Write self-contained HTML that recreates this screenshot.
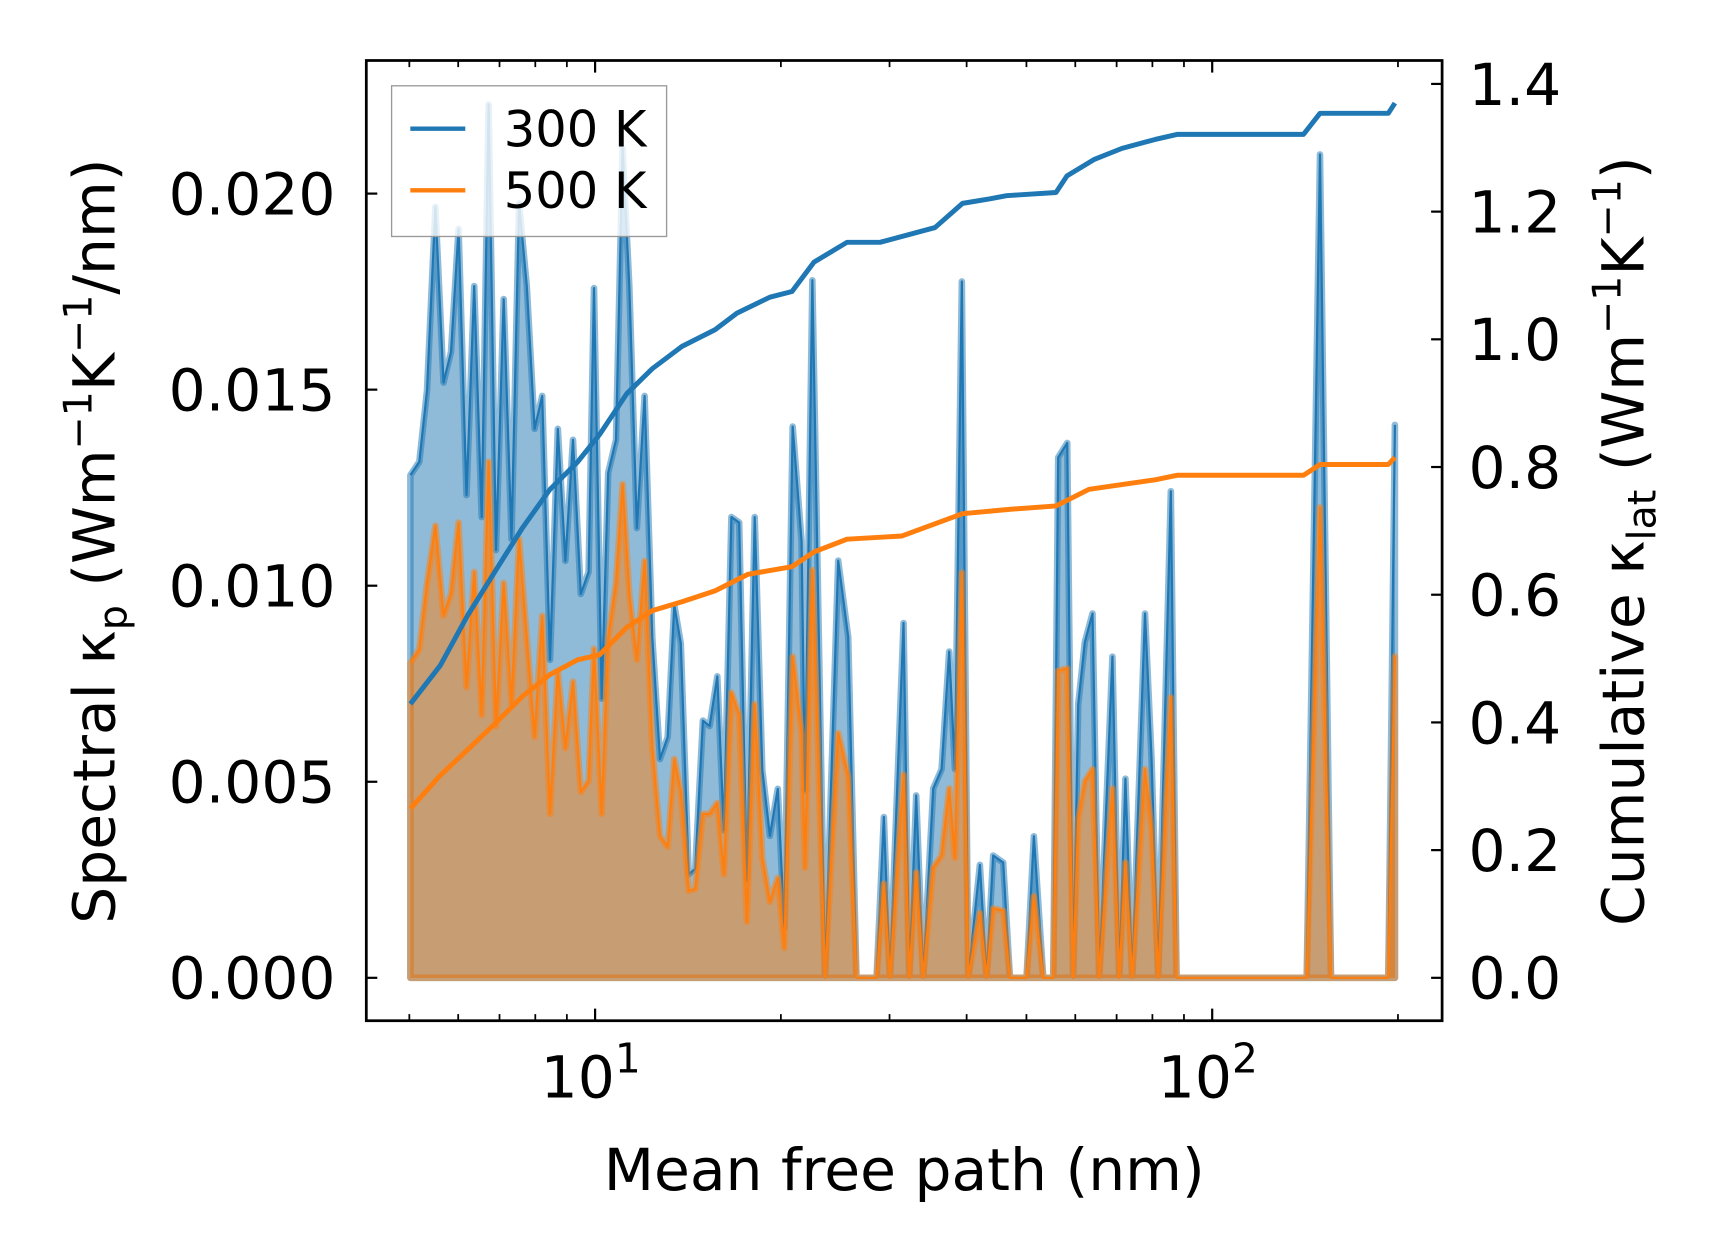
<!DOCTYPE html>
<html><head><meta charset="utf-8"><style>
html,body{margin:0;padding:0;background:#fff;}
svg{display:block;}
text{font-family:"DejaVu Sans","Liberation Sans",sans-serif;fill:#000;}
</style></head><body>
<svg id="chart" width="1716" height="1255" viewBox="0 0 1560 1141" preserveAspectRatio="none" xmlns="http://www.w3.org/2000/svg">
<g id="plot"></g>
<g id="axes"></g>
<text x="822" y="1082" font-size="53" text-anchor="middle">Mean free path (nm)</text>
<text transform="translate(104,492) rotate(-90)" font-size="53" text-anchor="middle">Spectral κ<tspan font-size="36" dy="11">p</tspan><tspan dy="-11"> (Wm</tspan><tspan font-size="36" dy="-21">−1</tspan><tspan dy="21">K</tspan><tspan font-size="36" dy="-21">−1</tspan><tspan dy="21">/nm)</tspan></text>
<text transform="translate(1494,492) rotate(-90)" font-size="53" text-anchor="middle">Cumulative κ<tspan font-size="36" dy="11">lat</tspan><tspan dy="-11"> (Wm</tspan><tspan font-size="36" dy="-21">−1</tspan><tspan dy="21">K</tspan><tspan font-size="36" dy="-21">−1</tspan><tspan dy="21">)</tspan></text>
<g>
<rect x="356" y="78" width="250" height="137" fill="#fff" fill-opacity="0.8" stroke="#999" stroke-width="1.2"/>
<line x1="373" y1="117" x2="423" y2="117" stroke="#1f77b4" stroke-width="4"/>
<text x="458" y="133" font-size="45">300 K</text>
<line x1="373" y1="173" x2="423" y2="173" stroke="#ff7f0e" stroke-width="4"/>
<text x="458" y="189" font-size="45">500 K</text>
</g>
</svg>
<script>
const mfp = [5.02,5.19,5.34,5.51,5.68,5.84,6.01,6.19,6.37,6.55,6.72,6.91,7.11,7.32,7.53,7.75,7.98,8.21,8.45,8.70,8.95,9.21,9.48,9.76,9.96,10.25,10.50,10.81,11.08,11.36,11.69,12.03,12.38,12.74,13.11,13.44,13.77,14.18,14.53,14.95,15.33,15.78,16.17,16.63,17.12,17.62,18.14,18.66,19.20,19.77,20.26,20.9,21.61,21.88,22.49,23.58,24.77,25.71,26.52,28.58,29.37,30.04,31.61,32.29,33.14,34.02,35.32,36.43,37.48,38.29,39.29,40.24,42.02,43.10,44.17,45.85,47.01,50.02,51.42,53.24,55.26,56.29,58.22,59.52,60.66,62.17,63.97,65.60,68.93,70.68,72.35,74.19,77.81,79.73,81.76,85.70,87.53,142.3,149.5,155.8,192.9,197.7];
const spec300 = [.01282,.01316,.01498,.01966,.01518,.01596,.01910,.01231,.01764,.01175,.02227,.01091,.01731,.01119,.01975,.01764,.01400,.01484,.00811,.01400,.01063,.01372,.00979,.01035,.01759,.00712,.01288,.01372,.02115,.01764,.01147,.01484,.00867,.00558,.00614,.00951,.00853,.00264,.00278,.00656,.00642,.00769,.00376,.01175,.01161,.00250,.01175,.00530,.00362,.00482,.00129,.01406,.01113,.00477,.01779,0,.01064,.00869,0,0,.00410,0,.00905,0,.00465,0,.00483,.00532,.00832,.00532,.01776,0,.00288,0,.00312,.00294,0,0,.00361,0,0,.01327,.01364,0,.00697,.00856,.00929,0,.00819,0,.00508,0,.00929,.00563,0,.01241,0,0,.0210,0,0,.0141];
const spec500 = [.00802,.00839,.01007,.01153,.00924,.00980,.01161,.00741,.01035,.00670,.01316,.00642,.01007,.00698,.01119,.00867,.00614,.00923,.00418,.00783,.00586,.00755,.00474,.00502,.00839,.00418,.00867,.01007,.01259,.00979,.00811,.01063,.00586,.00362,.00334,.00558,.00474,.00222,.00227,.00418,.00418,.00446,.00264,.00727,.00670,.00143,.00698,.00306,.00194,.00255,.00076,.00819,.00624,.00281,.01040,0,.00624,.00514,0,0,.00240,0,.00518,0,.00269,0,.00281,.00312,.00483,.00306,.01033,0,.00165,0,.00177,.00171,0,0,.00208,0,0,.00783,.00789,0,.00404,.00501,.00532,0,.00483,0,.00294,0,.00532,.00379,0,.00715,0,0,.0120,0,0,.0082];
const cum300X = [5.02,5.61,6.21,6.88,7.63,8.45,9.37,10.17,11.26,12.38,13.83,15.64,16.98,19.20,20.85,22.63,25.60,28.95,35.54,39.39,43.64,46.42,55.84,58.18,64.47,71.42,80.80,87.70,140.6,149.5,192.9,197.7];
const cum300Y = [0.429,0.489,0.567,0.636,0.705,0.765,0.808,0.851,0.915,0.954,0.989,1.015,1.041,1.066,1.075,1.121,1.152,1.152,1.175,1.213,1.220,1.225,1.230,1.256,1.282,1.299,1.313,1.321,1.321,1.354,1.354,1.370];
const cum500X = [5.02,5.61,6.21,6.88,7.63,8.45,9.37,10.17,11.26,12.38,13.83,15.64,17.69,20.85,22.63,25.60,31.43,39.39,47.38,55.84,63.16,80.80,87.70,140.6,149.5,192.9,197.7];
const cum500Y = [0.265,0.317,0.357,0.398,0.441,0.475,0.498,0.506,0.549,0.575,0.589,0.606,0.632,0.644,0.667,0.687,0.692,0.727,0.734,0.739,0.765,0.780,0.787,0.787,0.804,0.804,0.815];
const leftTicks = [0,0.005,0.010,0.015,0.020];
const leftTickLabels = ["0.000","0.005","0.010","0.015","0.020"];
const rightTicks = [0,0.2,0.4,0.6,0.8,1.0,1.2,1.4];
const rightTickLabels = ["0.0","0.2","0.4","0.6","0.8","1.0","1.2","1.4"];
const xMajor = [10,100];
const xMajorExp = ["1","2"];
const xMinor = [5,6,7,8,9,20,30,40,50,60,70,80,90,200];

const NS = "http://www.w3.org/2000/svg";
const L=333,R=1311,T=55,B=928;
function xs(m){return 541+561*(Math.log10(m)-1);}
function yl(v){return 889-v/0.005*178.25;}
function yr(v){return 889-v/0.2*116.1;}
function mk(tag,attrs,parent){const e=document.createElementNS(NS,tag);for(const k in attrs)e.setAttribute(k,attrs[k]);parent.appendChild(e);return e;}
const plot=document.getElementById('plot'), axes=document.getElementById('axes');

function spectral(vals,color,fill,name){
  const pts=mfp.map((m,i)=>xs(m).toFixed(1)+','+yl(vals[i]).toFixed(1));
  const poly=pts.join(' ')+' '+xs(mfp[mfp.length-1]).toFixed(1)+','+yl(0)+' '+xs(mfp[0]).toFixed(1)+','+yl(0);
  const f=mk('polygon',{points:poly,fill:fill,'fill-opacity':0.5,stroke:color,'stroke-opacity':0.5,'stroke-width':6,'stroke-linejoin':'round'},plot);
  
  
  const l=mk('polyline',{points:pts.join(' '),fill:'none',stroke:color,'stroke-width':2,'stroke-linejoin':'round'},plot);
  
  
}
spectral(spec300,'#1f77b4','#1f77b4','spectral-300k');
spectral(spec500,'#ff7f0e','#ff7f0e','spectral-500k');
function cum(X,Y,color,name){
  const pts=X.map((m,i)=>xs(m).toFixed(1)+','+yr(Y[i]).toFixed(1)).join(' ');
  const l=mk('polyline',{points:pts,fill:'none',stroke:color,'stroke-width':4.5,'stroke-linejoin':'round'},plot);
  
  
}
cum(cum300X,cum300Y,'#1f77b4','cumulative-300k');
cum(cum500X,cum500Y,'#ff7f0e','cumulative-500k');

const frame=mk('rect',{x:L,y:T,width:R-L,height:B-T,fill:'none',stroke:'#000','stroke-width':2.5},axes);


leftTicks.forEach((v,i)=>{
  const y=yl(v);
  mk('line',{x1:L,x2:L+10,y1:y,y2:y,stroke:'#000','stroke-width':2},axes);
  const t=mk('text',{x:L-28,y:y+19,'font-size':53,'text-anchor':'end'},axes);
  t.textContent=leftTickLabels[i];
  
  
});
rightTicks.forEach((v,i)=>{
  const y=yr(v);
  mk('line',{x1:R-10,x2:R,y1:y,y2:y,stroke:'#000','stroke-width':2},axes);
  const t=mk('text',{x:R+24,y:y+19,'font-size':53},axes);
  t.textContent=rightTickLabels[i];
  
  
});
xMinor.forEach(m=>{
  const x=xs(m);
  mk('line',{x1:x,x2:x,y1:B,y2:B-6,stroke:'#000','stroke-width':1.6},axes);
  mk('line',{x1:x,x2:x,y1:T,y2:T+6,stroke:'#000','stroke-width':1.6},axes);
});
xMajor.forEach((m,i)=>{
  const x=xs(m);
  mk('line',{x1:x,x2:x,y1:B,y2:B-11,stroke:'#000','stroke-width':2},axes);
  mk('line',{x1:x,x2:x,y1:T,y2:T+11,stroke:'#000','stroke-width':2},axes);
  const t=mk('text',{x:x-4,y:B+70,'font-size':53,'text-anchor':'middle'},axes);
  
  
  t.textContent='10';
  const s=mk('tspan',{'font-size':37,dy:-23},t);
  s.textContent=xMajorExp[i];
});
</script>
</body></html>
